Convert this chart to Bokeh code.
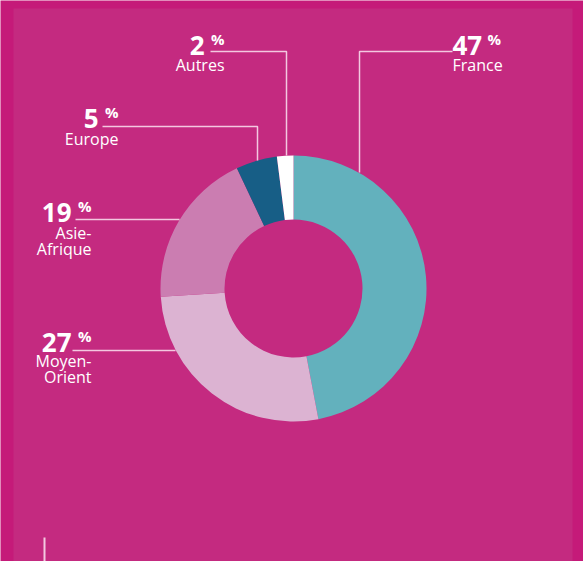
import math
from bokeh.plotting import figure
from bokeh.models import Range1d, ColumnDataSource
from bokeh.core.properties import value
from bokeh.embed import file_html
from bokeh.resources import INLINE

# ---- data ----
regions = ["France", "Moyen-Orient", "Asie-Afrique", "Europe", "Autres"]
shares = [47, 27, 19, 5, 2]
label_lines = [["France"], ["Moyen-", "Orient"], ["Asie-", "Afrique"], ["Europe"], ["Autres"]]
colors = ["#63b1bd", "#dcb3d2", "#cb7db1", "#175e86", "#ffffff"]

# ---- layout (reference pixel coords, y downward) ----
W, H = 583, 561
cx, cy = 293, 288
r_in, r_out = 69, 133
TEXT_SHIFT = 7
# label anchor: (x, align, number baseline y, first name baseline y)
label_pos = {
    "France": (452, "left", 52, 71),
    "Autres": (224, "right", 52, 71),
    "Europe": (118, "right", 125, 145),
    "Asie-Afrique": (91, "right", 219, 239),
    "Moyen-Orient": (91, "right", 349, 367),
}
leaders = {
    "France": [(452, 51), (359, 51), (359, 172)],
    "Autres": [(210, 51), (286, 51), (286, 155)],
    "Europe": [(102, 126), (257, 126), (257, 160)],
    "Asie-Afrique": [(75, 219), (179, 219)],
    "Moyen-Orient": [(72, 350), (175, 350)],
}

def Y(y):
    return H - y

p = figure(width=W, height=H, output_backend="svg", toolbar_location=None,
           x_range=Range1d(0, W), y_range=Range1d(0, H), min_border=0)
p.axis.visible = False
p.grid.visible = False
p.outline_line_color = None
p.background_fill_color = "#c51a79"
p.border_fill_color = "#c51a79"

# inner panel
p.quad(left=[13], right=[572], bottom=[0], top=[Y(8)], fill_color="#c42a80", line_color=None)

# donut
total = sum(shares)
starts, ends = [], []
cum = 0
for s in shares:
    a0 = math.pi / 2 - 2 * math.pi * (cum + s) / total
    a1 = math.pi / 2 - 2 * math.pi * cum / total
    starts.append(a0)
    ends.append(a1)
    cum += s
src = ColumnDataSource(dict(start=starts, end=ends, color=colors, region=regions))
p.annular_wedge(x=cx, y=Y(cy), inner_radius=r_in, outer_radius=r_out,
                start_angle="start", end_angle="end", color="color",
                line_color=None, source=src)

# leader lines
line_col = "#f3c8e0"
for reg, pts in leaders.items():
    p.line([q[0] for q in pts], [Y(q[1]) for q in pts], line_color=line_col, line_width=1.5)
p.line([44, 44], [Y(537), Y(561)], line_color=line_col, line_width=2)

# labels
font = value("Open Sans")
for reg, val, lines in zip(regions, shares, label_lines):
    x, align, nb, lb = label_pos[reg]
    nb -= TEXT_SHIFT
    lb -= TEXT_SHIFT
    if align == "left":
        xn, an = x, "left"
        xp, ap = x + 35, "left"
    else:
        xn, an = x - 20, "right"
        xp, ap = x, "right"
    p.text(x=[xn], y=[Y(nb)], text=[str(val)], text_font=font, text_font_size="26px",
           text_font_style="bold", text_color="white", text_align=an, text_baseline="alphabetic")
    p.text(x=[xp], y=[Y(nb) + 7], text=["%"], text_font=font, text_font_size="15px",
           text_font_style="bold", text_color="white", text_align=ap, text_baseline="alphabetic")
    for i, ln in enumerate(lines):
        p.text(x=[x], y=[Y(lb + 16 * i)], text=[ln], text_font=font, text_font_size="16px",
               text_color="white", text_align=align, text_baseline="alphabetic")

open("out.html", "w").write(file_html(p, INLINE))
